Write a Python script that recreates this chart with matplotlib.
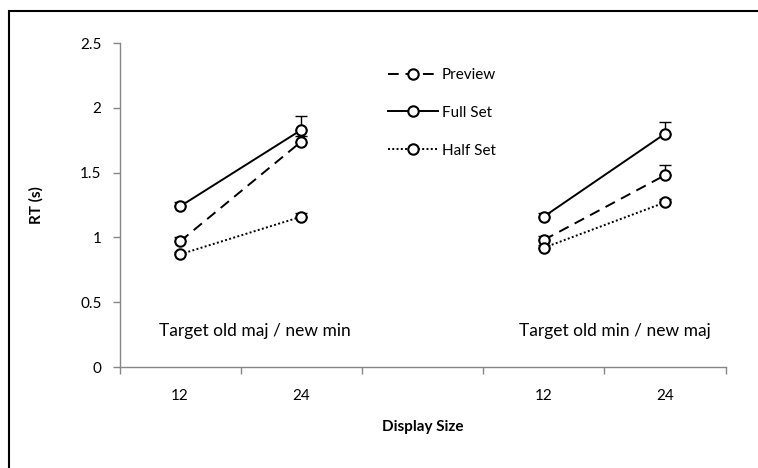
import numpy as np
import matplotlib
matplotlib.use("Agg")
import matplotlib.pyplot as plt
from matplotlib.patches import Rectangle

plt.rcParams['font.family'] = ['Lato', 'DejaVu Sans']

# categories on the x axis (third slot is the empty gap between the two groups)
tick_labels = ['12', '24', '', '12', '24']
group_labels = ['Target old maj / new min', 'Target old min / new maj']

# mean RT (s) per condition, NaN in the gap
preview = [0.97, 1.74, np.nan, 0.98, 1.48]
full_set = [1.24, 1.83, np.nan, 1.16, 1.80]
half_set = [0.87, 1.16, np.nan, 0.92, 1.27]

# plus-only error bars
preview_err = [0.03, 0.04, 0, 0.03, 0.08]
full_err = [0.03, 0.11, 0, 0.03, 0.09]
half_err = [0.02, 0.03, 0, 0.02, 0.03]

fig = plt.figure(figsize=(7.58, 4.68), dpi=100)
ax = fig.add_axes([0.1577, 0.2158, 0.7995, 0.6922])

x = np.arange(len(tick_labels))
series = [
    ('Preview', preview, preview_err, (0, (5.5, 3.5))),
    ('Full Set', full_set, full_err, '-'),
    ('Half Set', half_set, half_err, (0, (1, 1.2))),
]
handles = []
for name, vals, err, ls in series:
    vals = np.array(vals)
    err = np.array(err)
    ok = ~np.isnan(vals)
    ax.errorbar(x[ok], vals[ok], yerr=[np.zeros(ok.sum()), err[ok]],
                fmt='none', ecolor='black', elinewidth=1, capsize=4, capthick=1, zorder=2)
    # draw each group separately so the gap is not joined
    for seg in [(0, 2), (3, 5)]:
        ax.plot(x[seg[0]:seg[1]], vals[seg[0]:seg[1]], color='black', linestyle=ls, lw=1.4,
                marker='o', ms=7.5, mfc='white', mec='black', mew=1.5, zorder=3)
    h, = ax.plot([], [], color='black', linestyle=ls, lw=1.4, marker='o', ms=7.5,
                 mfc='white', mec='black', mew=1.5, label=name)
    handles.append(h)

ax.set_xlim(-0.5, 4.5)
ax.set_ylim(0, 2.5)
ax.set_yticks([0, 0.5, 1, 1.5, 2, 2.5])
ax.set_yticklabels(['0', '0.5', '1', '1.5', '2', '2.5'])
ax.set_xticks(x)
ax.set_xticklabels(tick_labels)
ax.set_xticks(np.arange(-0.5, 5, 1), minor=True)
ax.tick_params(axis='x', which='major', length=0, pad=16, labelsize=11)
ax.tick_params(axis='x', which='minor', length=5, color='#868686', width=1, direction='out')
ax.tick_params(axis='y', length=5, color='#868686', width=1, labelsize=11, pad=8)

for s in ['top', 'right']:
    ax.spines[s].set_visible(False)
for s in ['left', 'bottom']:
    ax.spines[s].set_color('#868686')
    ax.spines[s].set_linewidth(1)

ax.text(0.62, 0.28, group_labels[0], ha='center', va='center', fontsize=12.5)
ax.text(3.59, 0.28, group_labels[1], ha='center', va='center', fontsize=12.5)

ax.set_xlabel('Display Size', fontweight='bold', fontsize=11, labelpad=12)
ax.set_ylabel('RT (s)', fontweight='bold', fontsize=11, labelpad=26)

ax.legend(handles=handles, loc='upper left', bbox_to_anchor=(0.42, 0.965), frameon=False,
          fontsize=11, handlelength=3.3, handletextpad=0.25, labelspacing=1.55)

# chart area border
fig.patches.append(Rectangle((9 / 758, -0.1), 1.2, 1 - 11 / 468 + 0.1, transform=fig.transFigure,
                             fill=False, edgecolor='black', lw=1.5))

fig.savefig('out.png', dpi=100)
